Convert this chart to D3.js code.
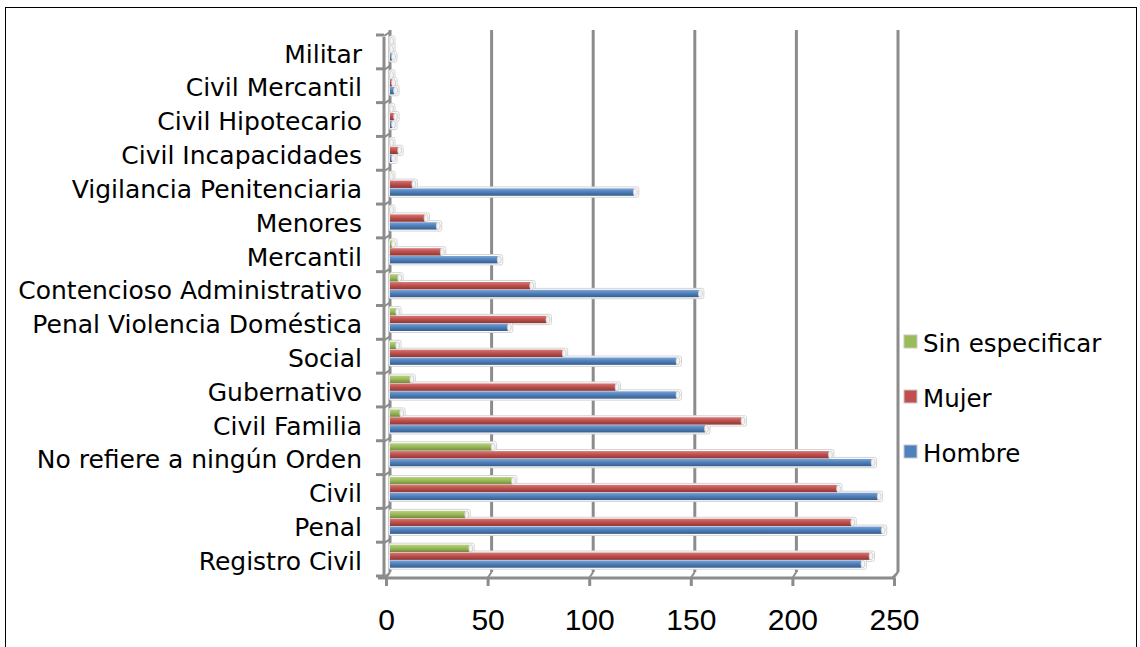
<!DOCTYPE html>
<html><head><meta charset="utf-8">
<script src="https://cdn.jsdelivr.net/npm/d3@7"></script>
<style>body{margin:0;background:#fff}svg{display:block}</style>
</head><body>
<svg id="c" width="1140" height="647"></svg>
<script>
const categories = ["Militar","Civil Mercantil","Civil Hipotecario","Civil Incapacidades","Vigilancia Penitenciaria","Menores","Mercantil","Contencioso Administrativo","Penal Violencia Doméstica","Social","Gubernativo","Civil Familia","No refiere a ningún Orden","Civil","Penal","Registro Civil"];
const seriesNames = ["Sin especificar","Mujer","Hombre"];
const sinEspecificar = [0,0,0,0,0,0,1,4,3,3,10,5,50,60,37,39];
const mujer = [0,1,2,4,11,17,25,69,77,85,111,173,216,220,227,236];
const hombre = [1,2,1,1,120,23,53,152,58,141,141,155,237,240,242,232];
const tickValues = [0,50,100,150,200,250];

const values = [sinEspecificar, mujer, hombre];
const colors = ["#9bbb59","#c0504d","#4f81bd"];
const dark = ["#71893f","#8c3836","#385d8a"];
const light = ["#b9d17f","#d57a77","#7ea3d4"];

const svg = d3.select("#c");
svg.append("rect").attr("x",5.5).attr("y",7.5).attr("width",1131).attr("height",680)
  .attr("fill","#fff").attr("stroke","#000").attr("stroke-width",1);

const defs = svg.append("defs");
colors.forEach((c,i)=>{
  const g = defs.append("linearGradient").attr("id","g"+i).attr("x1",0).attr("y1",0).attr("x2",0).attr("y2",1);
  g.append("stop").attr("offset","0%").attr("stop-color",light[i]);
  g.append("stop").attr("offset","45%").attr("stop-color",c);
  g.append("stop").attr("offset","100%").attr("stop-color",dark[i]);
});

const x = d3.scaleLinear().domain([0,250]).range([390,898]);
const y = d3.scaleBand().domain(categories).range([35,576]).padding(0);
const sub = d3.scaleBand().domain(seriesNames).range([2,26]).padding(0.06);
const backBottom = 572, frontY = 578, dx = -4;
const grid = "#8c8c8c";

// back wall gridlines
svg.append("g").selectAll("line").data(tickValues).join("line")
  .attr("x1",d=>x(d)).attr("x2",d=>x(d)).attr("y1",30).attr("y2",backBottom)
  .attr("stroke",grid).attr("stroke-width",3);
// floor connectors
svg.append("g").selectAll("line").data(tickValues).join("line")
  .attr("x1",d=>x(d)).attr("x2",d=>x(d)+dx).attr("y1",backBottom).attr("y2",frontY)
  .attr("stroke",grid).attr("stroke-width",2);

// front x axis
const xFront = d3.scaleLinear().domain([0,250]).range([390+dx,898+dx]);
const xAxis = d3.axisBottom(xFront).tickValues(tickValues).tickSize(8).tickPadding(23).tickSizeOuter(0);
const gx = svg.append("g").attr("transform",`translate(0,${frontY})`).call(xAxis);
gx.select(".domain").attr("stroke",grid).attr("stroke-width",3).attr("d",`M${378},0H${898+dx}`);
gx.selectAll(".tick line").attr("stroke",grid).attr("stroke-width",3);
gx.selectAll(".tick text").attr("fill","#000").style("font-family","'Liberation Sans',Arial,sans-serif").style("font-size","30px");

// front y axis
const gy = svg.append("g").attr("transform",`translate(384,0)`);
gy.append("line").attr("x1",0).attr("x2",0).attr("y1",37).attr("y2",frontY).attr("stroke",grid).attr("stroke-width",3);
const bounds = categories.map(c=>y(c)).concat([576]);
gy.selectAll("line.t").data(bounds).join("line").attr("class","t")
  .attr("x1",-8).attr("x2",0).attr("y1",d=>d).attr("y2",d=>d).attr("stroke",grid).attr("stroke-width",3);
gy.selectAll("line.c").data(bounds).join("line").attr("class","c")
  .attr("x1",0).attr("x2",6).attr("y1",d=>d+1).attr("y2",d=>d-3).attr("stroke",grid).attr("stroke-width",2);

// category labels
svg.append("g").selectAll("text").data(categories).join("text")
  .attr("x",362).attr("y",d=>y(d)+y.bandwidth()/2+2).attr("dy","0.35em")
  .attr("text-anchor","end").style("font-family","'DejaVu Sans',Verdana,sans-serif").style("font-size","25px")
  .attr("fill","#000").text(d=>d);

// bars
const barData = [];
values.forEach((arr,si)=>arr.forEach((v,ci)=>barData.push({si,ci,v})));
const bg = svg.append("g");
bg.selectAll("rect.h").data(barData).join("rect").attr("class","h")
  .attr("x",x(0)-1).attr("y",d=>y(categories[d.ci])+sub(seriesNames[d.si])-1.5)
  .attr("width",d=>x(d.v)-x(0)+6).attr("height",sub.bandwidth()+3)
  .attr("rx",2).attr("fill","#fff").attr("stroke","#d4d4d4").attr("stroke-width",1);
bg.selectAll("rect.b").data(barData).join("rect").attr("class","b")
  .attr("x",x(0)).attr("y",d=>y(categories[d.ci])+sub(seriesNames[d.si]))
  .attr("width",d=>x(d.v)-x(0)).attr("height",sub.bandwidth())
  .attr("fill",d=>`url(#g${d.si})`);
bg.selectAll("ellipse").data(barData).join("ellipse")
  .attr("cx",d=>x(d.v)+1.5).attr("cy",d=>y(categories[d.ci])+sub(seriesNames[d.si])+sub.bandwidth()/2)
  .attr("rx",2).attr("ry",sub.bandwidth()/2)
  .attr("fill","#f4f4f4").attr("stroke","#c8c8c8").attr("stroke-width",0.8);

// right wall edge
svg.append("line").attr("x1",x(250)).attr("x2",x(250)+dx-2).attr("y1",backBottom).attr("y2",frontY)
  .attr("stroke",grid).attr("stroke-width",2);

// legend
const legendOrder = [0,1,2];
const lg = svg.append("g").selectAll("g").data(legendOrder).join("g")
  .attr("transform",(d,i)=>`translate(904,${342+i*55})`);
lg.append("rect").attr("x",0).attr("y",-7).attr("width",13).attr("height",13)
  .attr("fill",d=>colors[d]).attr("stroke","#c8c8c8").attr("stroke-width",1);
lg.append("text").attr("x",19).attr("y",1).attr("dy","0.35em")
  .style("font-family","'DejaVu Sans',Verdana,sans-serif").style("font-size","24.5px")
  .attr("fill","#000").text(d=>seriesNames[d]);
</script>
</body></html>
